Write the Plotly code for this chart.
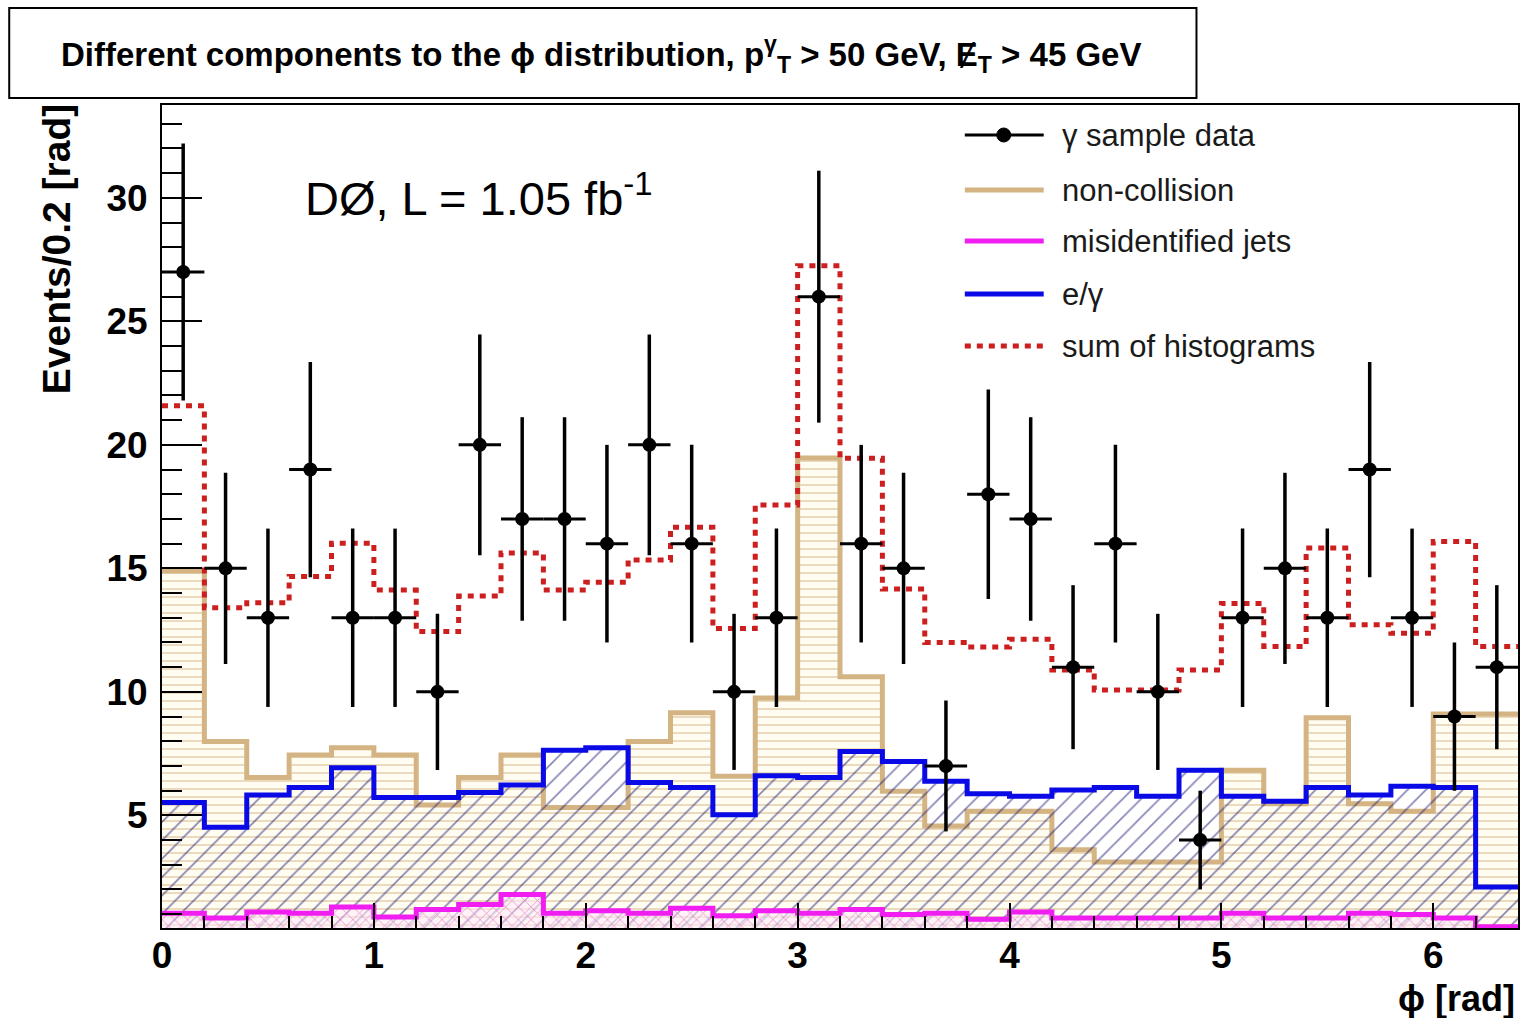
import plotly.graph_objects as go

# ---------------- data ----------------
bin_edges = [0.0, 0.2, 0.4, 0.6, 0.8, 1.0, 1.2, 1.4, 1.6, 1.8, 2.0, 2.2, 2.4, 2.6, 2.8, 3.0,
             3.2, 3.4, 3.6, 3.8, 4.0, 4.2, 4.4, 4.6, 4.8, 5.0, 5.2, 5.4, 5.6, 5.8, 6.0, 6.2, 6.4]
bin_centers = [0.1, 0.3, 0.5, 0.7, 0.9, 1.1, 1.3, 1.5, 1.7, 1.9, 2.1, 2.3, 2.5, 2.7, 2.9, 3.1,
               3.3, 3.5, 3.7, 3.9, 4.1, 4.3, 4.5, 4.7, 4.9, 5.1, 5.3, 5.5, 5.7, 5.9, 6.1, 6.3]

data_counts = [27, 15, 13, 19, 13, 13, 10, 20, 17, 17, 16, 20, 16, 10, 13, 26,
               16, 15, 7, 18, 17, 11, 16, 10, 4, 13, 15, 13, 19, 13, 9, 11]
data_err = [5.20, 3.87, 3.61, 4.36, 3.61, 3.61, 3.16, 4.47, 4.12, 4.12, 4.00, 4.47, 4.00, 3.16, 3.61, 5.10,
            4.00, 3.87, 2.65, 4.24, 4.12, 3.32, 4.00, 3.16, 2.00, 3.61, 3.87, 3.61, 4.36, 3.61, 3.00, 3.32]

noncollision = [14.89, 7.99, 6.53, 7.44, 7.74, 7.44, 5.42, 6.53, 7.44, 5.32, 5.32, 7.99, 9.15, 6.58, 9.75, 19.47,
                10.61, 5.98, 4.57, 5.17, 5.17, 3.61, 3.11, 3.11, 3.11, 6.83, 5.47, 8.95, 5.47, 5.17, 9.10, 9.10]
egamma = [5.52, 4.52, 5.82, 6.13, 6.93, 5.72, 5.72, 5.93, 6.23, 7.64, 7.74, 6.33, 6.13, 5.02, 6.60, 6.53,
          7.59, 7.18, 6.38, 5.88, 5.77, 6.03, 6.13, 5.77, 6.83, 5.77, 5.57, 6.13, 5.82, 6.18, 6.13, 2.10]
misid_jets = [1.04, 0.84, 1.09, 1.04, 1.29, 0.89, 1.19, 1.39, 1.80, 1.04, 1.14, 1.04, 1.24, 0.94, 1.14, 1.04,
              1.19, 0.99, 1.04, 0.79, 1.09, 0.84, 0.84, 0.84, 0.84, 1.04, 0.84, 0.84, 1.04, 0.99, 0.84, 0.49]
sum_hist = [21.58, 13.41, 13.61, 14.67, 16.02, 14.12, 12.44, 13.88, 15.62, 14.12, 14.44, 15.34, 16.66, 12.57, 17.57, 27.25,
            19.46, 14.16, 12.00, 11.82, 12.13, 10.89, 10.08, 10.08, 10.89, 13.58, 11.84, 15.82, 12.72, 12.37, 16.09, 11.84]

legend_labels = ["γ sample data", "non-collision", "misidentified jets", "e/γ", "sum of histograms"]

x_ticks = [0, 1, 2, 3, 4, 5, 6]
y_ticks = [5, 10, 15, 20, 25, 30]

# ---------------- styles ----------------
TAN = "#D4B483"
BLUE = "#0A0AE6"
MAGENTA = "#F01EF0"
RED = "#CC1F1F"
NAVY = "#101070"
FONT = "Liberation Sans, Arial, Helvetica, sans-serif"

W, H = 1521, 1018
ML, MR, MT, MB = 162, 1, 105, 90


def px(x):
    return (x - ML) / (W - ML - MR)


def py(y):
    return (H - MB - y) / (H - MT - MB)


def step_y(vals):
    return list(vals) + [vals[-1]]


fig = go.Figure()

# non-collision (tan, horizontal hatch)
fig.add_trace(go.Scatter(
    x=bin_edges, y=step_y(noncollision), mode="lines", line_shape="hv",
    line=dict(color=TAN, width=5), fill="tozeroy",
    fillpattern=dict(shape="-", fgcolor=TAN, bgcolor="#FFFDF2", size=8, solidity=0.24),
    showlegend=False, hoverinfo="skip"))

# e/gamma (blue, diagonal hatch)
fig.add_trace(go.Scatter(
    x=bin_edges, y=step_y(egamma), mode="lines", line_shape="hv",
    line=dict(color=BLUE, width=5), fill="tozeroy",
    fillpattern=dict(shape="/", fgcolor=NAVY, bgcolor="rgba(0,0,0,0)", size=13, solidity=0.13),
    showlegend=False, hoverinfo="skip"))

# misidentified jets (magenta, cross hatch)
fig.add_trace(go.Scatter(
    x=bin_edges, y=step_y(misid_jets), mode="lines", line_shape="hv",
    line=dict(color=MAGENTA, width=5), fill="tozeroy",
    fillpattern=dict(shape="x", fgcolor="#D050B0", bgcolor="rgba(255,235,250,0.6)", size=9, solidity=0.2),
    showlegend=False, hoverinfo="skip"))

# sum of histograms (red dotted)
fig.add_trace(go.Scatter(
    x=bin_edges, y=step_y(sum_hist), mode="lines", line_shape="hv",
    line=dict(color=RED, width=5, dash="6px,6px"),
    showlegend=False, hoverinfo="skip"))

# data
fig.add_trace(go.Scatter(
    x=bin_centers, y=data_counts, mode="markers",
    marker=dict(color="black", size=14, symbol="circle"),
    error_y=dict(type="data", array=data_err, width=0, thickness=3.5, color="black"),
    error_x=dict(type="constant", value=0.1, width=0, thickness=3, color="black"),
    showlegend=False, hoverinfo="skip"))

# ---------------- manual legend ----------------
leg_rows = [135, 190, 241, 294, 346]
shapes = []
annotations = []
styles = [
    dict(color="black", width=3),
    dict(color=TAN, width=5),
    dict(color=MAGENTA, width=5),
    dict(color=BLUE, width=5),
    dict(color=RED, width=5, dash="6px,6px"),
]
for ry, st, lab in zip(leg_rows, styles, legend_labels):
    shapes.append(dict(type="line", xref="paper", yref="paper",
                       x0=px(966), x1=px(1045), y0=py(ry), y1=py(ry), line=st))
    annotations.append(dict(xref="paper", yref="paper", x=px(1061), y=py(ry),
                            xanchor="left", yanchor="middle", showarrow=False,
                            text=lab, font=dict(family=FONT, size=31, color="#1a1a1a")))
# marker of the data legend entry
shapes.append(dict(type="circle", xref="paper", yref="paper",
                   x0=px(998), x1=px(1012), y0=py(128), y1=py(142),
                   fillcolor="black", line=dict(color="black", width=1)))

# title box
shapes.append(dict(type="rect", xref="paper", yref="paper",
                   x0=px(9), x1=px(1198), y0=py(98), y1=py(8),
                   line=dict(color="black", width=2), fillcolor="white", layer="below"))
annotations.append(dict(
    xref="paper", yref="paper", x=px(602), y=py(55), xanchor="center", yanchor="middle",
    showarrow=False,
    text="<b>Different components to the ϕ distribution, p<sup>γ</sup><sub>T</sub> &gt; 50 GeV, Ɇ<sub>T</sub> &gt; 45 GeV</b>",
    font=dict(family=FONT, size=33, color="black")))

# DØ label
annotations.append(dict(
    xref="paper", yref="paper", x=px(303), y=py(195), xanchor="left", yanchor="middle",
    showarrow=False, text="DØ, L = 1.05 fb<sup>-1</sup>",
    font=dict(family=FONT, size=47, color="black")))

# axis titles
annotations.append(dict(
    xref="paper", yref="paper", x=px(56), y=py(249), xanchor="center", yanchor="middle",
    showarrow=False, textangle=-90, text="<b>Events/0.2 [rad]</b>",
    font=dict(family=FONT, size=39, color="black")))
annotations.append(dict(
    xref="paper", yref="paper", x=px(1519), y=py(998), xanchor="right", yanchor="middle",
    showarrow=False, text="<b>ϕ [rad]</b>",
    font=dict(family=FONT, size=36, color="black")))

fig.update_layout(
    width=W, height=H,
    margin=dict(l=ML, r=MR, t=MT, b=MB, pad=0),
    paper_bgcolor="white", plot_bgcolor="white",
    shapes=shapes, annotations=annotations,
    showlegend=False,
    xaxis=dict(range=[0, 6.4], tickvals=x_ticks, ticktext=[str(v) for v in x_ticks],
               ticks="inside", ticklen=25, tickwidth=2, tickcolor="black",
               showline=True, linecolor="black", linewidth=2, mirror=True,
               showgrid=False, zeroline=False, ticklabelstandoff=-6,
               tickfont=dict(family=FONT, size=37, color="black", weight="bold"),
               minor=dict(dtick=0.2, tick0=0, ticks="inside", ticklen=12, tickwidth=1.5,
                          tickcolor="black", showgrid=False)),
    yaxis=dict(range=[0.44, 33.76], tickvals=y_ticks, ticktext=[str(v) for v in y_ticks],
               ticks="inside", ticklen=40, tickwidth=2, tickcolor="black",
               showline=True, linecolor="black", linewidth=2, mirror=True,
               showgrid=False, zeroline=False, ticklabelstandoff=5,
               tickfont=dict(family=FONT, size=37, color="black", weight="bold"),
               minor=dict(dtick=1, tick0=0, ticks="inside", ticklen=20, tickwidth=2,
                          tickcolor="black", showgrid=False)),
)

fig.write_html("out.html", config={"displayModeBar": False},
               post_script="document.body.style.margin='0px';document.body.style.overflow='hidden';")
